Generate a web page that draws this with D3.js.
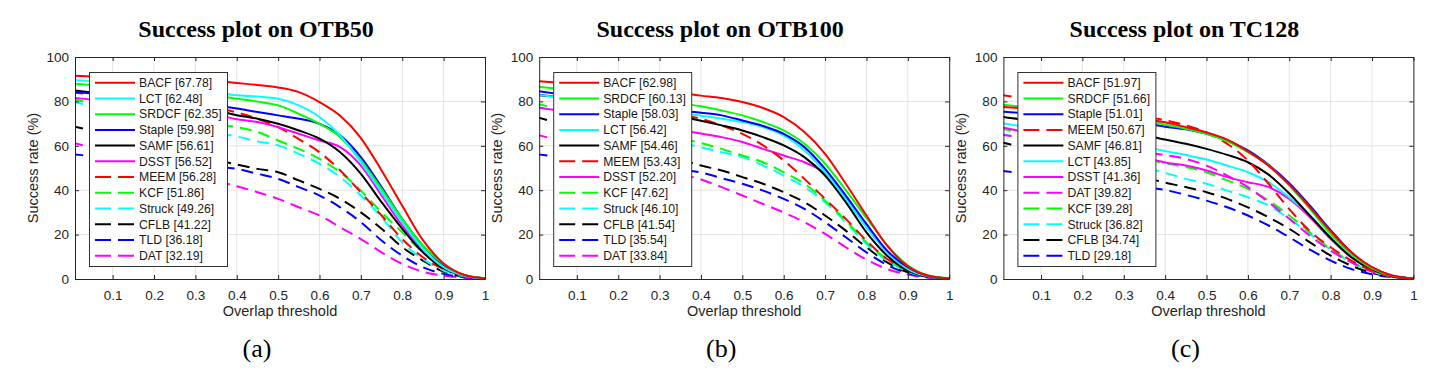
<!DOCTYPE html>
<html>
<head>
<meta charset="utf-8">
<script src="https://cdnjs.cloudflare.com/ajax/libs/d3/7.8.5/d3.min.js"></script>
<style>
  body { margin: 0; background: #fff; }
  svg { display: block; }
</style>
</head>
<body>
<div id="chart"></div>
<script>
//overlap thresholds shared by every curve
var thresholds = [0, 0.05, 0.1, 0.15, 0.2, 0.25, 0.3, 0.35, 0.4, 0.45, 0.5,
  0.55, 0.6, 0.65, 0.7, 0.75, 0.8, 0.85, 0.9, 0.95, 1];

//OTB50
var otb50Names = ["BACF", "LCT", "SRDCF", "Staple", "SAMF", "DSST", "MEEM", "KCF", "Struck", "CFLB", "TLD", "DAT"];
var otb50Scores = [67.78, 62.48, 62.35, 59.98, 56.61, 56.52, 56.28, 51.86, 49.26, 41.22, 36.18, 32.19];
var otb50Rates = [
  [91.6, 91.2, 90.9, 90.6, 90.3, 90.0, 89.6, 89.2, 88.3, 87.4, 86.3, 84.2, 79.7, 73.5, 63.5, 48.9, 33.0, 17.5, 7.0, 1.8, 0.3],
  [89.6, 89.0, 88.2, 87.4, 86.6, 85.8, 85.0, 84.0, 82.8, 82.2, 81.2, 78.2, 73.0, 64.7, 52.6, 39.0, 25.6, 13.5, 5.3, 1.5, 0.3],
  [88.1, 87.4, 86.6, 85.9, 85.1, 84.4, 83.6, 82.6, 81.2, 79.9, 78.2, 74.4, 69.9, 63.9, 53.4, 40.6, 27.0, 15.0, 6.8, 1.8, 0.3],
  [84.4, 83.6, 82.8, 82.0, 81.1, 80.2, 79.2, 78.2, 76.8, 75.2, 73.7, 72.2, 69.9, 64.7, 54.9, 41.4, 27.0, 15.0, 6.3, 1.8, 0.3],
  [85.1, 84.0, 82.8, 81.6, 80.3, 79.0, 77.5, 75.8, 73.8, 72.2, 69.9, 66.9, 63.2, 57.1, 47.4, 34.6, 22.6, 12.0, 4.8, 1.5, 0.3],
  [81.7, 80.8, 79.8, 78.8, 77.7, 76.6, 75.4, 74.0, 72.0, 70.7, 68.4, 65.4, 62.4, 59.4, 51.1, 37.6, 24.0, 12.8, 5.3, 1.5, 0.3],
  [84.0, 83.3, 82.5, 81.7, 80.8, 79.8, 78.7, 77.2, 75.0, 72.2, 68.4, 63.0, 57.1, 48.9, 39.0, 28.6, 18.0, 9.8, 4.5, 1.5, 0.3],
  [81.0, 79.4, 77.8, 76.2, 74.6, 73.0, 71.4, 69.8, 68.4, 66.2, 62.4, 58.6, 54.1, 48.1, 39.8, 30.0, 21.0, 12.0, 5.3, 1.5, 0.3],
  [80.0, 78.0, 76.0, 74.0, 72.0, 70.0, 68.0, 66.0, 64.2, 62.0, 60.2, 56.4, 51.9, 45.9, 37.6, 27.8, 16.5, 9.0, 3.8, 1.2, 0.2],
  [69.0, 66.8, 64.6, 62.4, 60.2, 58.0, 55.8, 53.6, 51.6, 49.6, 48.1, 44.4, 40.6, 36.1, 30.0, 22.6, 14.3, 8.3, 3.3, 1.0, 0.2],
  [56.2, 55.4, 54.6, 53.8, 53.0, 52.2, 51.4, 50.6, 49.6, 47.4, 45.1, 41.4, 37.6, 32.3, 25.6, 17.3, 10.5, 5.3, 2.3, 0.8, 0.2],
  [61.6, 59.1, 56.6, 54.1, 51.6, 49.1, 46.6, 44.1, 41.8, 39.1, 36.1, 32.3, 28.6, 23.3, 18.0, 12.0, 6.8, 3.3, 1.5, 0.6, 0.1]
];

//OTB100
var otb100Names = ["BACF", "SRDCF", "Staple", "LCT", "SAMF", "MEEM", "DSST", "KCF", "Struck", "CFLB", "TLD", "DAT"];
var otb100Scores = [62.98, 60.13, 58.03, 56.42, 54.46, 53.43, 52.20, 47.62, 46.10, 41.54, 35.54, 33.84];
var otb100Rates = [
  [89.2, 88.5, 87.7, 87.0, 86.2, 85.5, 84.7, 83.8, 82.6, 81.5, 79.7, 77.0, 72.9, 66.2, 56.4, 42.9, 28.6, 15.0, 5.7, 1.5, 0.3],
  [86.8, 85.8, 84.8, 83.7, 82.6, 81.5, 80.3, 79.1, 77.8, 75.9, 73.7, 70.7, 66.9, 60.9, 51.9, 40.0, 27.5, 15.2, 6.2, 1.6, 0.3],
  [84.8, 83.5, 82.2, 80.9, 79.6, 78.4, 77.2, 75.9, 74.9, 73.7, 71.4, 68.9, 65.4, 59.4, 49.6, 37.6, 24.8, 12.8, 5.3, 1.4, 0.3],
  [83.0, 82.0, 80.9, 79.8, 78.6, 77.4, 76.2, 74.9, 73.5, 72.2, 70.7, 68.4, 64.7, 57.9, 48.1, 36.1, 23.3, 12.0, 4.5, 1.2, 0.3],
  [83.2, 82.0, 80.6, 79.2, 77.8, 76.3, 74.8, 73.2, 71.3, 69.2, 66.9, 63.9, 60.2, 54.9, 46.6, 34.6, 21.0, 10.5, 3.8, 1.1, 0.2],
  [83.0, 81.9, 80.7, 79.5, 78.2, 76.9, 75.5, 74.0, 72.2, 69.2, 65.4, 60.2, 53.4, 45.1, 36.1, 27.1, 17.3, 9.0, 3.8, 1.1, 0.2],
  [77.5, 76.0, 74.5, 73.0, 71.5, 70.0, 68.5, 67.0, 65.5, 63.9, 61.7, 58.6, 55.6, 52.6, 47.5, 36.0, 23.5, 12.0, 4.5, 1.1, 0.2],
  [79.1, 76.9, 74.6, 72.4, 70.1, 67.9, 65.6, 63.4, 61.2, 58.6, 55.6, 52.6, 48.1, 42.9, 35.3, 26.3, 16.5, 9.0, 3.8, 1.1, 0.2],
  [77.6, 75.3, 73.0, 70.7, 68.4, 66.1, 63.8, 61.5, 59.3, 57.1, 54.9, 51.1, 46.6, 41.4, 34.6, 25.6, 15.8, 8.3, 3.3, 0.9, 0.2],
  [73.1, 70.4, 67.6, 64.9, 62.1, 59.4, 56.6, 53.9, 51.1, 48.9, 45.9, 42.9, 39.1, 34.6, 28.6, 21.8, 14.3, 7.5, 3.0, 0.9, 0.2],
  [56.2, 55.2, 54.2, 53.2, 52.2, 51.2, 50.2, 49.2, 48.0, 45.4, 42.9, 39.8, 36.1, 31.6, 25.6, 18.8, 12.0, 6.3, 2.6, 0.8, 0.2],
  [65.2, 62.7, 60.1, 57.6, 55.0, 52.5, 49.9, 47.4, 44.8, 41.4, 37.6, 33.8, 30.0, 25.6, 20.3, 14.3, 8.7, 4.5, 2.0, 0.6, 0.1]
];

//TC128
var tc128Names = ["BACF", "SRDCF", "Staple", "MEEM", "SAMF", "LCT", "DSST", "DAT", "KCF", "Struck", "CFLB", "TLD"];
var tc128Scores = [51.97, 51.66, 51.01, 50.67, 46.81, 43.85, 41.36, 39.82, 39.28, 36.82, 34.74, 29.18];
var tc128Rates = [
  [77.6, 77.0, 76.3, 75.6, 74.8, 74.0, 73.1, 72.1, 70.6, 68.4, 66.0, 62.8, 57.5, 51.0, 42.5, 32.3, 21.5, 12.0, 5.3, 1.5, 0.3],
  [78.7, 77.7, 76.7, 75.7, 74.7, 73.6, 72.5, 71.3, 69.5, 67.7, 65.4, 62.0, 57.1, 51.1, 42.1, 31.6, 20.3, 11.3, 4.8, 1.4, 0.3],
  [75.4, 74.8, 74.1, 73.4, 72.6, 71.8, 70.9, 70.0, 68.6, 67.4, 65.4, 62.4, 57.9, 51.4, 43.2, 33.0, 22.0, 12.0, 5.1, 1.5, 0.3],
  [83.0, 81.6, 80.2, 78.8, 77.4, 76.0, 74.6, 73.2, 71.5, 69.2, 66.0, 60.9, 53.4, 42.9, 31.5, 21.5, 14.3, 8.3, 3.8, 1.2, 0.2],
  [73.1, 72.0, 70.9, 69.8, 68.6, 67.3, 66.0, 64.6, 62.8, 60.9, 58.6, 55.9, 52.6, 47.0, 38.5, 28.5, 18.5, 9.8, 4.2, 1.2, 0.2],
  [70.4, 68.9, 67.4, 65.9, 64.4, 62.9, 61.3, 59.7, 57.6, 55.9, 53.8, 51.1, 48.1, 43.6, 36.8, 28.6, 18.8, 10.5, 4.2, 1.2, 0.2],
  [68.6, 66.6, 64.6, 62.6, 60.6, 58.6, 56.6, 54.6, 52.5, 51.1, 48.9, 45.9, 43.6, 41.4, 36.1, 27.8, 18.0, 9.8, 4.1, 1.2, 0.2],
  [65.0, 63.9, 62.7, 61.6, 60.4, 59.3, 58.1, 57.0, 55.8, 54.1, 51.1, 46.6, 41.4, 34.6, 27.1, 19.5, 12.8, 7.5, 3.3, 1.1, 0.2],
  [68.0, 66.0, 64.0, 62.0, 60.0, 58.0, 56.0, 54.0, 52.2, 50.4, 48.1, 44.4, 40.6, 35.3, 28.6, 21.0, 13.5, 7.8, 3.5, 1.1, 0.2],
  [65.6, 63.4, 61.2, 59.0, 56.8, 54.6, 52.4, 50.2, 47.8, 45.1, 42.9, 39.8, 36.8, 33.1, 27.1, 20.3, 13.2, 7.5, 3.3, 1.1, 0.2],
  [61.8, 59.5, 57.2, 54.9, 52.6, 50.3, 48.0, 45.7, 43.4, 41.4, 39.1, 36.1, 32.3, 27.8, 22.6, 16.5, 10.5, 6.0, 2.7, 0.9, 0.2],
  [48.8, 47.8, 46.7, 45.7, 44.6, 43.6, 42.5, 41.5, 40.1, 37.9, 35.3, 32.3, 28.6, 24.1, 18.8, 13.2, 8.3, 4.5, 2.1, 0.8, 0.2]
];

var panelTitles = ["Success plot on OTB50", "Success plot on OTB100", "Success plot on TC128"];
var panelCaptions = ["(a)", "(b)", "(c)"];
var xTicks = [0.1, 0.2, 0.3, 0.4, 0.5, 0.6, 0.7, 0.8, 0.9, 1];
var yTicks = [0, 20, 40, 60, 80, 100];

//colour and dash of each tracker (matlab style)
var trackerColor = {
  BACF: "#ff0000", LCT: "#00ffff", SRDCF: "#00ff00", Staple: "#0000ff", SAMF: "#000000", DSST: "#ff00ff",
  MEEM: "#ff0000", KCF: "#00ff00", Struck: "#00ffff", CFLB: "#000000", TLD: "#0000ff", DAT: "#ff00ff"
};
var dashedTrackers = ["MEEM", "KCF", "Struck", "CFLB", "TLD", "DAT"];

var w = 1436;
var h = 370;
var plotW = 410;
var plotTop = 57;
var plotBottom = 279;
var sans = "'Liberation Sans', Arial, Helvetica, sans-serif";
var serif = "'Liberation Serif', 'Times New Roman', serif";
var axisColor = "#262626";

var svg = d3.select("#chart").append("svg").attr("width", w).attr("height", h);
svg.append("rect").attr("width", w).attr("height", h).attr("fill", "#fff");

function drawPanel(p, names, scores, rates) {
  var left = 75 + p * 464.2;
  var cx = left + plotW / 2;

  var xScale = d3.scaleLinear().domain([0.009, 1]).range([left, left + plotW]);
  var yScale = d3.scaleLinear().domain([0, 100]).range([plotBottom, plotTop]);

  var g = svg.append("g");

  //grid lines
  g.selectAll(".vgrid").data(xTicks.slice(0, -1)).enter().append("line")
    .attr("x1", function (d) { return xScale(d); })
    .attr("x2", function (d) { return xScale(d); })
    .attr("y1", plotTop).attr("y2", plotBottom)
    .attr("stroke", "#e4e4e4").attr("stroke-width", 1);
  g.selectAll(".hgrid").data(yTicks.slice(1, -1)).enter().append("line")
    .attr("y1", function (d) { return yScale(d); })
    .attr("y2", function (d) { return yScale(d); })
    .attr("x1", left).attr("x2", left + plotW)
    .attr("stroke", "#e4e4e4").attr("stroke-width", 1);

  //clip curves to the plot box
  svg.append("clipPath").attr("id", "clip" + p)
    .append("rect").attr("x", left).attr("y", plotTop)
    .attr("width", plotW).attr("height", plotBottom - plotTop);

  var line = d3.line()
    .x(function (d, i) { return xScale(thresholds[i]); })
    .y(function (d) { return yScale(d); })
    .curve(d3.curveMonotoneX);

  //draw lowest ranked first so best trackers sit on top
  var order = d3.range(names.length).reverse();
  g.append("g").attr("clip-path", "url(#clip" + p + ")")
    .selectAll("path").data(order).enter().append("path")
    .attr("d", function (i) { return line(rates[i]); })
    .attr("fill", "none")
    .attr("stroke", function (i) { return trackerColor[names[i]]; })
    .attr("stroke-width", 2)
    .attr("stroke-dasharray", function (i) {
      return dashedTrackers.indexOf(names[i]) >= 0 ? "12,7" : null;
    });

  //axes with inward ticks
  var xAxis = d3.axisBottom(xScale).tickValues(xTicks).tickSizeInner(-4).tickSizeOuter(0)
    .tickPadding(11).tickFormat(d3.format("~g"));
  var yAxis = d3.axisLeft(yScale).tickValues(yTicks).tickSizeInner(-4).tickSizeOuter(0).tickPadding(6);
  var xTop = d3.axisTop(xScale).tickValues(xTicks).tickSizeInner(-4).tickSizeOuter(0).tickFormat("");
  var yRight = d3.axisRight(yScale).tickValues(yTicks).tickSizeInner(-4).tickSizeOuter(0).tickFormat("");

  var axes = [
    [xAxis, "translate(0," + plotBottom + ")"],
    [yAxis, "translate(" + left + ",0)"],
    [xTop, "translate(0," + plotTop + ")"],
    [yRight, "translate(" + (left + plotW) + ",0)"]
  ];
  axes.forEach(function (a) {
    var ag = g.append("g").attr("transform", a[1]).call(a[0]);
    ag.attr("font-family", sans).attr("font-size", 13.5);
    ag.selectAll("path, line").attr("stroke", axisColor);
    ag.selectAll("text").attr("fill", axisColor);
  });

  //legend
  var lx = left + 14;
  var ly = 72;
  var legend = g.append("g");
  legend.append("rect")
    .attr("x", lx + 0.5).attr("y", ly + 0.5)
    .attr("width", 138).attr("height", 194)
    .attr("fill", "#fff").attr("stroke", "#333").attr("stroke-width", 1);

  legend.selectAll("legendLines").data(names).enter().append("line")
    .attr("x1", lx + 6).attr("x2", lx + 46)
    .attr("y1", function (d, i) { return ly + 10.7 + i * 15.73; })
    .attr("y2", function (d, i) { return ly + 10.7 + i * 15.73; })
    .attr("stroke", function (d) { return trackerColor[d]; })
    .attr("stroke-width", 2)
    .attr("stroke-dasharray", function (d) {
      return dashedTrackers.indexOf(d) >= 0 ? "16,7" : null;
    });

  legend.selectAll("legendLabels").data(names).enter().append("text")
    .attr("x", lx + 50)
    .attr("y", function (d, i) { return ly + 10.7 + i * 15.73; })
    .attr("dy", "0.35em")
    .attr("font-family", sans).attr("font-size", 12.2).attr("fill", "#1a1a1a")
    .text(function (d, i) { return d + " [" + scores[i].toFixed(2) + "]"; });

  //title
  svg.append("text")
    .attr("x", cx - 24).attr("y", 37)
    .attr("text-anchor", "middle")
    .attr("font-family", serif).attr("font-weight", "bold").attr("font-size", 24)
    .text(panelTitles[p]);

  //axis titles
  svg.append("text")
    .attr("x", cx).attr("y", 316)
    .attr("text-anchor", "middle")
    .attr("font-family", sans).attr("font-size", 14.5).attr("fill", axisColor)
    .text("Overlap threshold");
  svg.append("text")
    .attr("transform", "translate(" + (left - 37) + "," + (plotTop + plotBottom) / 2 + ") rotate(-90)")
    .attr("text-anchor", "middle")
    .attr("font-family", sans).attr("font-size", 14.5).attr("fill", axisColor)
    .text("Success rate (%)");

  //sub caption
  svg.append("text")
    .attr("x", cx - 23).attr("y", 357)
    .attr("text-anchor", "middle")
    .attr("font-family", serif).attr("font-size", 26)
    .text(panelCaptions[p]);
}

drawPanel(0, otb50Names, otb50Scores, otb50Rates);
drawPanel(1, otb100Names, otb100Scores, otb100Rates);
drawPanel(2, tc128Names, tc128Scores, tc128Rates);
</script>
</body>
</html>
